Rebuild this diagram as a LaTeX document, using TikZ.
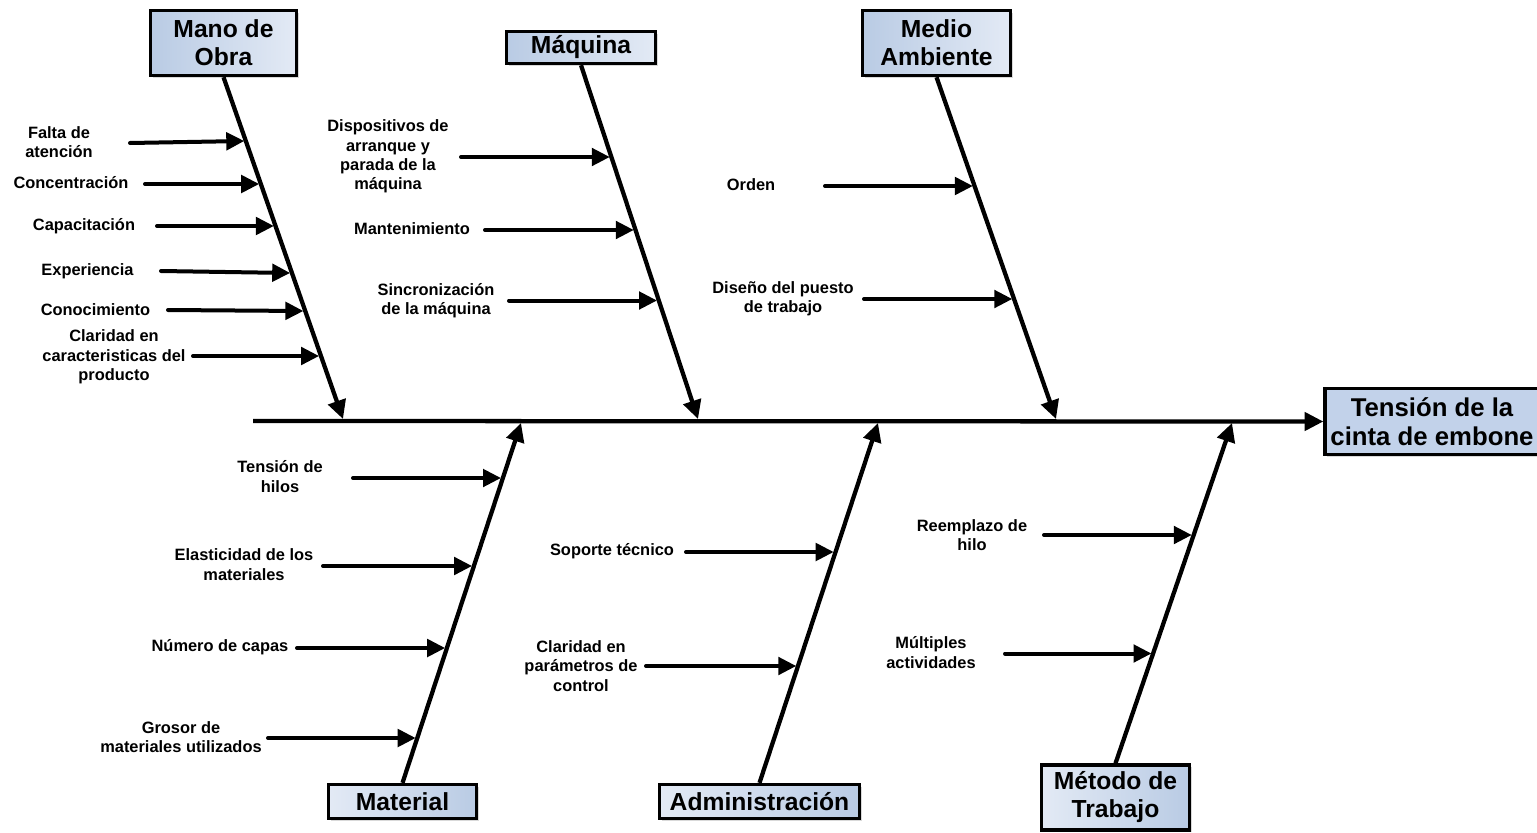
\documentclass[tikz,border=0pt]{standalone}
\usepackage{fontspec}
\setmainfont{Liberation Sans}
\usetikzlibrary{arrows.meta,shadows}
\definecolor{boxdark}{HTML}{B9CBE4}
\definecolor{boxlight}{HTML}{E3EAF5}
\definecolor{effectfill}{HTML}{C2D2EA}
\begin{document}
\begin{tikzpicture}[x=0.75pt,y=-0.75pt,
  cat/.style={draw=black, line width=2.5pt, inner sep=0pt, align=center,
    font=\fontsize{18.5}{21}\selectfont\bfseries,
    drop shadow={shadow xshift=1.5pt, shadow yshift=-1.5pt, opacity=0.3}},
  topcat/.style={cat, left color=boxdark, right color=boxlight},
  botcat/.style={cat, left color=boxlight, right color=boxdark},
  effect/.style={cat, fill=effectfill, font=\fontsize{19.3}{21.75}\selectfont\bfseries},
  cause/.style={inner sep=0pt, align=center, font=\fontsize{12.3}{14.5}\selectfont\bfseries},
  bone/.style={line width=3.2pt, -{Triangle[length=14pt,width=13.5pt]}},
  sub/.style={line width=3pt, line cap=round, -{Triangle[length=13.5pt,width=13pt]}},
]
\useasboundingbox (0,0) rectangle (1537,832);
\clip (0,0) rectangle (1537,832);

% ---- category boxes ----
\node[topcat, minimum width=109.5pt, minimum height=48.75pt] (mano) at (223.5,43) {Mano de\\Obra};
\node[topcat, minimum width=111.75pt, minimum height=24pt] (maq) at (581,47.5) {Máquina};
\node[topcat, minimum width=111pt, minimum height=48.75pt] (med) at (936.5,43) {Medio\\Ambiente};
\node[botcat, minimum width=111pt, minimum height=25.5pt] (mat) at (402.5,801.5) {Material};
\node[botcat, minimum width=150pt, minimum height=25.5pt] (adm) at (759.5,801.5) {Administración};
\node[botcat, minimum width=111pt, minimum height=48.75pt] (met) at (1115.5,797.5) {Método de\\Trabajo};

% ---- effect ----
\node[effect, minimum width=160.5pt, minimum height=49.5pt] (efecto) at (1432,421.5) {Tensión de la\\cinta de embone};

% ---- spine ----
\coordinate (spine) at (253,421);
\draw[bone] (spine) -- (efecto.west);

% ---- main bones ----
\coordinate (jmano) at (343,419);
\coordinate (jmaq) at (698,419);
\coordinate (jmed) at (1056,419);
\coordinate (jmat) at (521,423);
\coordinate (jadm) at (878,423);
\coordinate (jmet) at (1232,423);
\draw[bone] (mano.south) -- (jmano);
\draw[bone] (maq.south) -- (jmaq);
\draw[bone] (med.south) -- (jmed);
\draw[bone] (mat.north) -- (jmat);
\draw[bone] (adm.north) -- (jadm);
\draw[bone] (met.north) -- (jmet);

% ---- Mano de Obra causes ----
\node[cause] (f1) at (59,142) {Falta de\\atención};
\node[cause] (f2) at (71,183) {Concentración};
\node[cause] (f3) at (84,226) {Capacitación};
\node[cause] (f4) at (87.5,271) {Experiencia};
\node[cause] (f5) at (95.5,310) {Conocimiento};
\node[cause] (f6) at (114,357) {Claridad en\\caracteristicas del\\producto};
\coordinate (f1a) at (130,143);   \coordinate (f1b) at (244.3,141);
\coordinate (f2a) at (145,184);   \coordinate (f2b) at (259.2,184);
\coordinate (f3a) at (157,226);   \coordinate (f3b) at (273.9,226);
\coordinate (f4a) at (161,271);   \coordinate (f4b) at (290.2,273);
\coordinate (f5a) at (168,310);   \coordinate (f5b) at (303.4,311);
\coordinate (f6a) at (193,356);   \coordinate (f6b) at (319.1,356);
\foreach \i in {1,...,6} \draw[sub] (f\i a) -- (f\i b);

% ---- Máquina causes ----
\node[cause] (m1) at (388,156.5) {Dispositivos de\\arranque y\\parada de la\\máquina};
\node[cause] (m2) at (412,229) {Mantenimiento};
\node[cause] (m3) at (436,300.5) {Sincronización\\de la máquina};
\coordinate (m1a) at (461,157);   \coordinate (m1b) at (609.8,157);
\coordinate (m2a) at (485,230);   \coordinate (m2b) at (633.8,230);
\coordinate (m3a) at (509,300.5); \coordinate (m3b) at (657,300.5);
\foreach \i in {1,2,3} \draw[sub] (m\i a) -- (m\i b);

% ---- Medio Ambiente causes ----
\node[cause] (a1) at (751,185) {Orden};
\node[cause] (a2) at (783,298.5) {Diseño del puesto\\de trabajo};
\coordinate (a1a) at (825,186);   \coordinate (a1b) at (972.9,186);
\coordinate (a2a) at (864,299);   \coordinate (a2b) at (1012.3,299);
\foreach \i in {1,2} \draw[sub] (a\i a) -- (a\i b);

% ---- Material causes ----
\node[cause] (t1) at (280,476.5) {Tensión de\\hilos};
\node[cause] (t2) at (244,564.5) {Elasticidad de los\\materiales};
\node[cause] (t3) at (220,647) {Número de capas};
\node[cause] (t4) at (181,737) {Grosor de\\materiales utilizados};
\coordinate (t1a) at (353,478);   \coordinate (t1b) at (501,478);
\coordinate (t2a) at (323,566);   \coordinate (t2b) at (472.1,566);
\coordinate (t3a) at (297,648);   \coordinate (t3b) at (445.2,648);
\coordinate (t4a) at (268,738);   \coordinate (t4b) at (415.7,738);
\foreach \i in {1,...,4} \draw[sub] (t\i a) -- (t\i b);

% ---- Administración causes ----
\node[cause] (d1) at (612,551) {Soporte técnico};
\node[cause] (d2) at (581,666) {Claridad en\\parámetros de\\control};
\coordinate (d1a) at (686,552);   \coordinate (d1b) at (833.7,552);
\coordinate (d2a) at (646,666);   \coordinate (d2b) at (796.3,666);
\foreach \i in {1,2} \draw[sub] (d\i a) -- (d\i b);

% ---- Método de Trabajo causes ----
\node[cause] (w1) at (972,535) {Reemplazo de\\hilo};
\node[cause] (w2) at (931,652.5) {Múltiples\\actividades};
\coordinate (w1a) at (1044,535);  \coordinate (w1b) at (1191.8,535);
\coordinate (w2a) at (1005,653.5);\coordinate (w2b) at (1151.5,653.5);
\foreach \i in {1,2} \draw[sub] (w\i a) -- (w\i b);
\end{tikzpicture}
\end{document}
